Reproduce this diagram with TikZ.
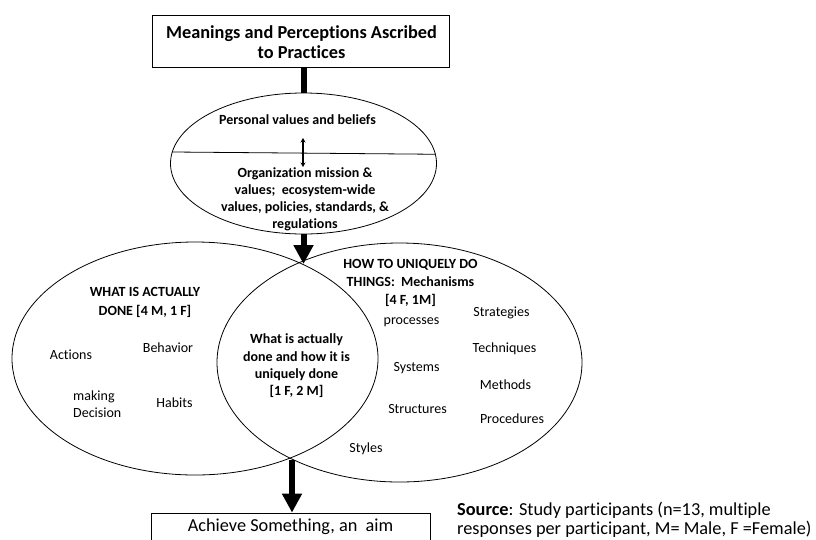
\documentclass[tikz,border=0pt]{standalone}
\usepackage{fontspec}
\setmainfont{Carlito}[Ligatures=NoCommon]
\usetikzlibrary{shapes.geometric,arrows.meta,calc}
\begin{document}
\begin{tikzpicture}[x=1pt,y=-1pt,
  oval/.style={ellipse,draw,line width=0.8pt,inner sep=0pt},
  bigarrow/.style={line width=6pt,-{Triangle[width=19pt,length=19pt]}},
  stem/.style={line width=6pt},
  thinarrow/.style={line width=1.1pt,{Stealth[length=4.5pt,width=5pt]}-{Stealth[length=4.5pt,width=5pt]}},
  word/.style={font=\fontsize{14}{17}\selectfont,inner sep=0pt},
  wordb/.style={font=\fontsize{14}{17}\selectfont\bfseries,align=center,inner sep=0pt},
  bigbox/.style={draw,line width=0.8pt,inner sep=0pt},
  bigtext/.style={font=\fontsize{18.3}{20}\selectfont,inner sep=0pt},
]
\clip (0,0) rectangle (816,539);
\fill[white] (0,0) rectangle (816,539);

% title box
\node[bigbox,minimum width=297pt,minimum height=52pt] (title) at (300.5,41) {};
\node[bigtext,font=\fontsize{18.3}{20}\selectfont\bfseries,align=center] (titletext) at (301.5,42)
  {Meanings and Perceptions Ascribed\\to Practices};

% top ellipse
\node[oval,minimum width=266pt,minimum height=141pt] (top) at (303.5,163.5) {};
\draw[line width=0.8pt] (top.175.44) -- (top.4.56);
\node[wordb] (personal) at (297.5,120) {Personal values and beliefs};
\node[wordb] (org) at (305,199.5) {Organization mission \&\\values;\ \ ecosystem-wide\\values, policies, standards, \&\\regulations};
\coordinate (da) at (303,138);
\coordinate (db) at (303,167);
\draw[thinarrow] (da) -- (db);

\draw[stem] (top.north |- title.south) -- (top.north);

% big ellipses
\node[oval,minimum width=366pt,minimum height=233pt] (left) at (195,358.5) {};
\node[oval,minimum width=365pt,minimum height=239pt] (right) at (399.5,362.5) {};
\coordinate (topX) at (302.5,264);
\coordinate (botX) at (292,460);

\draw[bigarrow] (top.south) -- (top.south |- topX);

% left ellipse texts
\node[wordb,font=\fontsize{14}{18.5}\selectfont\bfseries] (what) at (145,302.5) {WHAT IS ACTUALLY\\DONE {[}4 M, 1 F{]}};
\node[word] (actions) at (71,355) {Actions};
\node[word] (behavior) at (168,348) {Behavior};
\node[word,align=left,anchor=west] (decision) at (73,404.5) {making\\Decision};
\node[word] (habits) at (174.5,403) {Habits};

% middle
\node[wordb,font=\fontsize{14}{17.3}\selectfont\bfseries] (mid) at (296.5,366) {What is actually\\done and how it is\\uniquely done\\{[}1 F, 2 M{]}};

% right ellipse texts
\node[wordb,font=\fontsize{14}{18}\selectfont\bfseries] (how) at (410.5,283) {HOW TO UNIQUELY DO\\THINGS:\ \ Mechanisms\\{[}4 F, 1M{]}};
\node[word] (processes) at (411.5,322) {processes};
\node[word] (strategies) at (501.5,313) {Strategies};
\node[word] (techniques) at (504.5,349) {Techniques};
\node[word] (systems) at (416.5,368) {Systems};
\node[word] (methods) at (505.5,385) {Methods};
\node[word] (structures) at (417.5,409) {Structures};
\node[word] (procedures) at (512,419) {Procedures};
\node[word] (styles) at (366,449) {Styles};

% bottom box
\node[bigbox,minimum width=279pt,minimum height=54pt] (aim) at (290.5,540) {};
\node[bigtext] (aimtext) at (290.5,527) {Achieve Something, an\ \ aim};
\draw[bigarrow] (botX) -- (botX |- aim.north);

% source
\node[bigtext,align=left,anchor=west,font=\fontsize{18.3}{18.5}\selectfont] (source) at (457,520)
  {\textbf{Source}: Study participants (n=13, multiple\\responses per participant, M= Male, F =Female)};
\end{tikzpicture}
\end{document}
